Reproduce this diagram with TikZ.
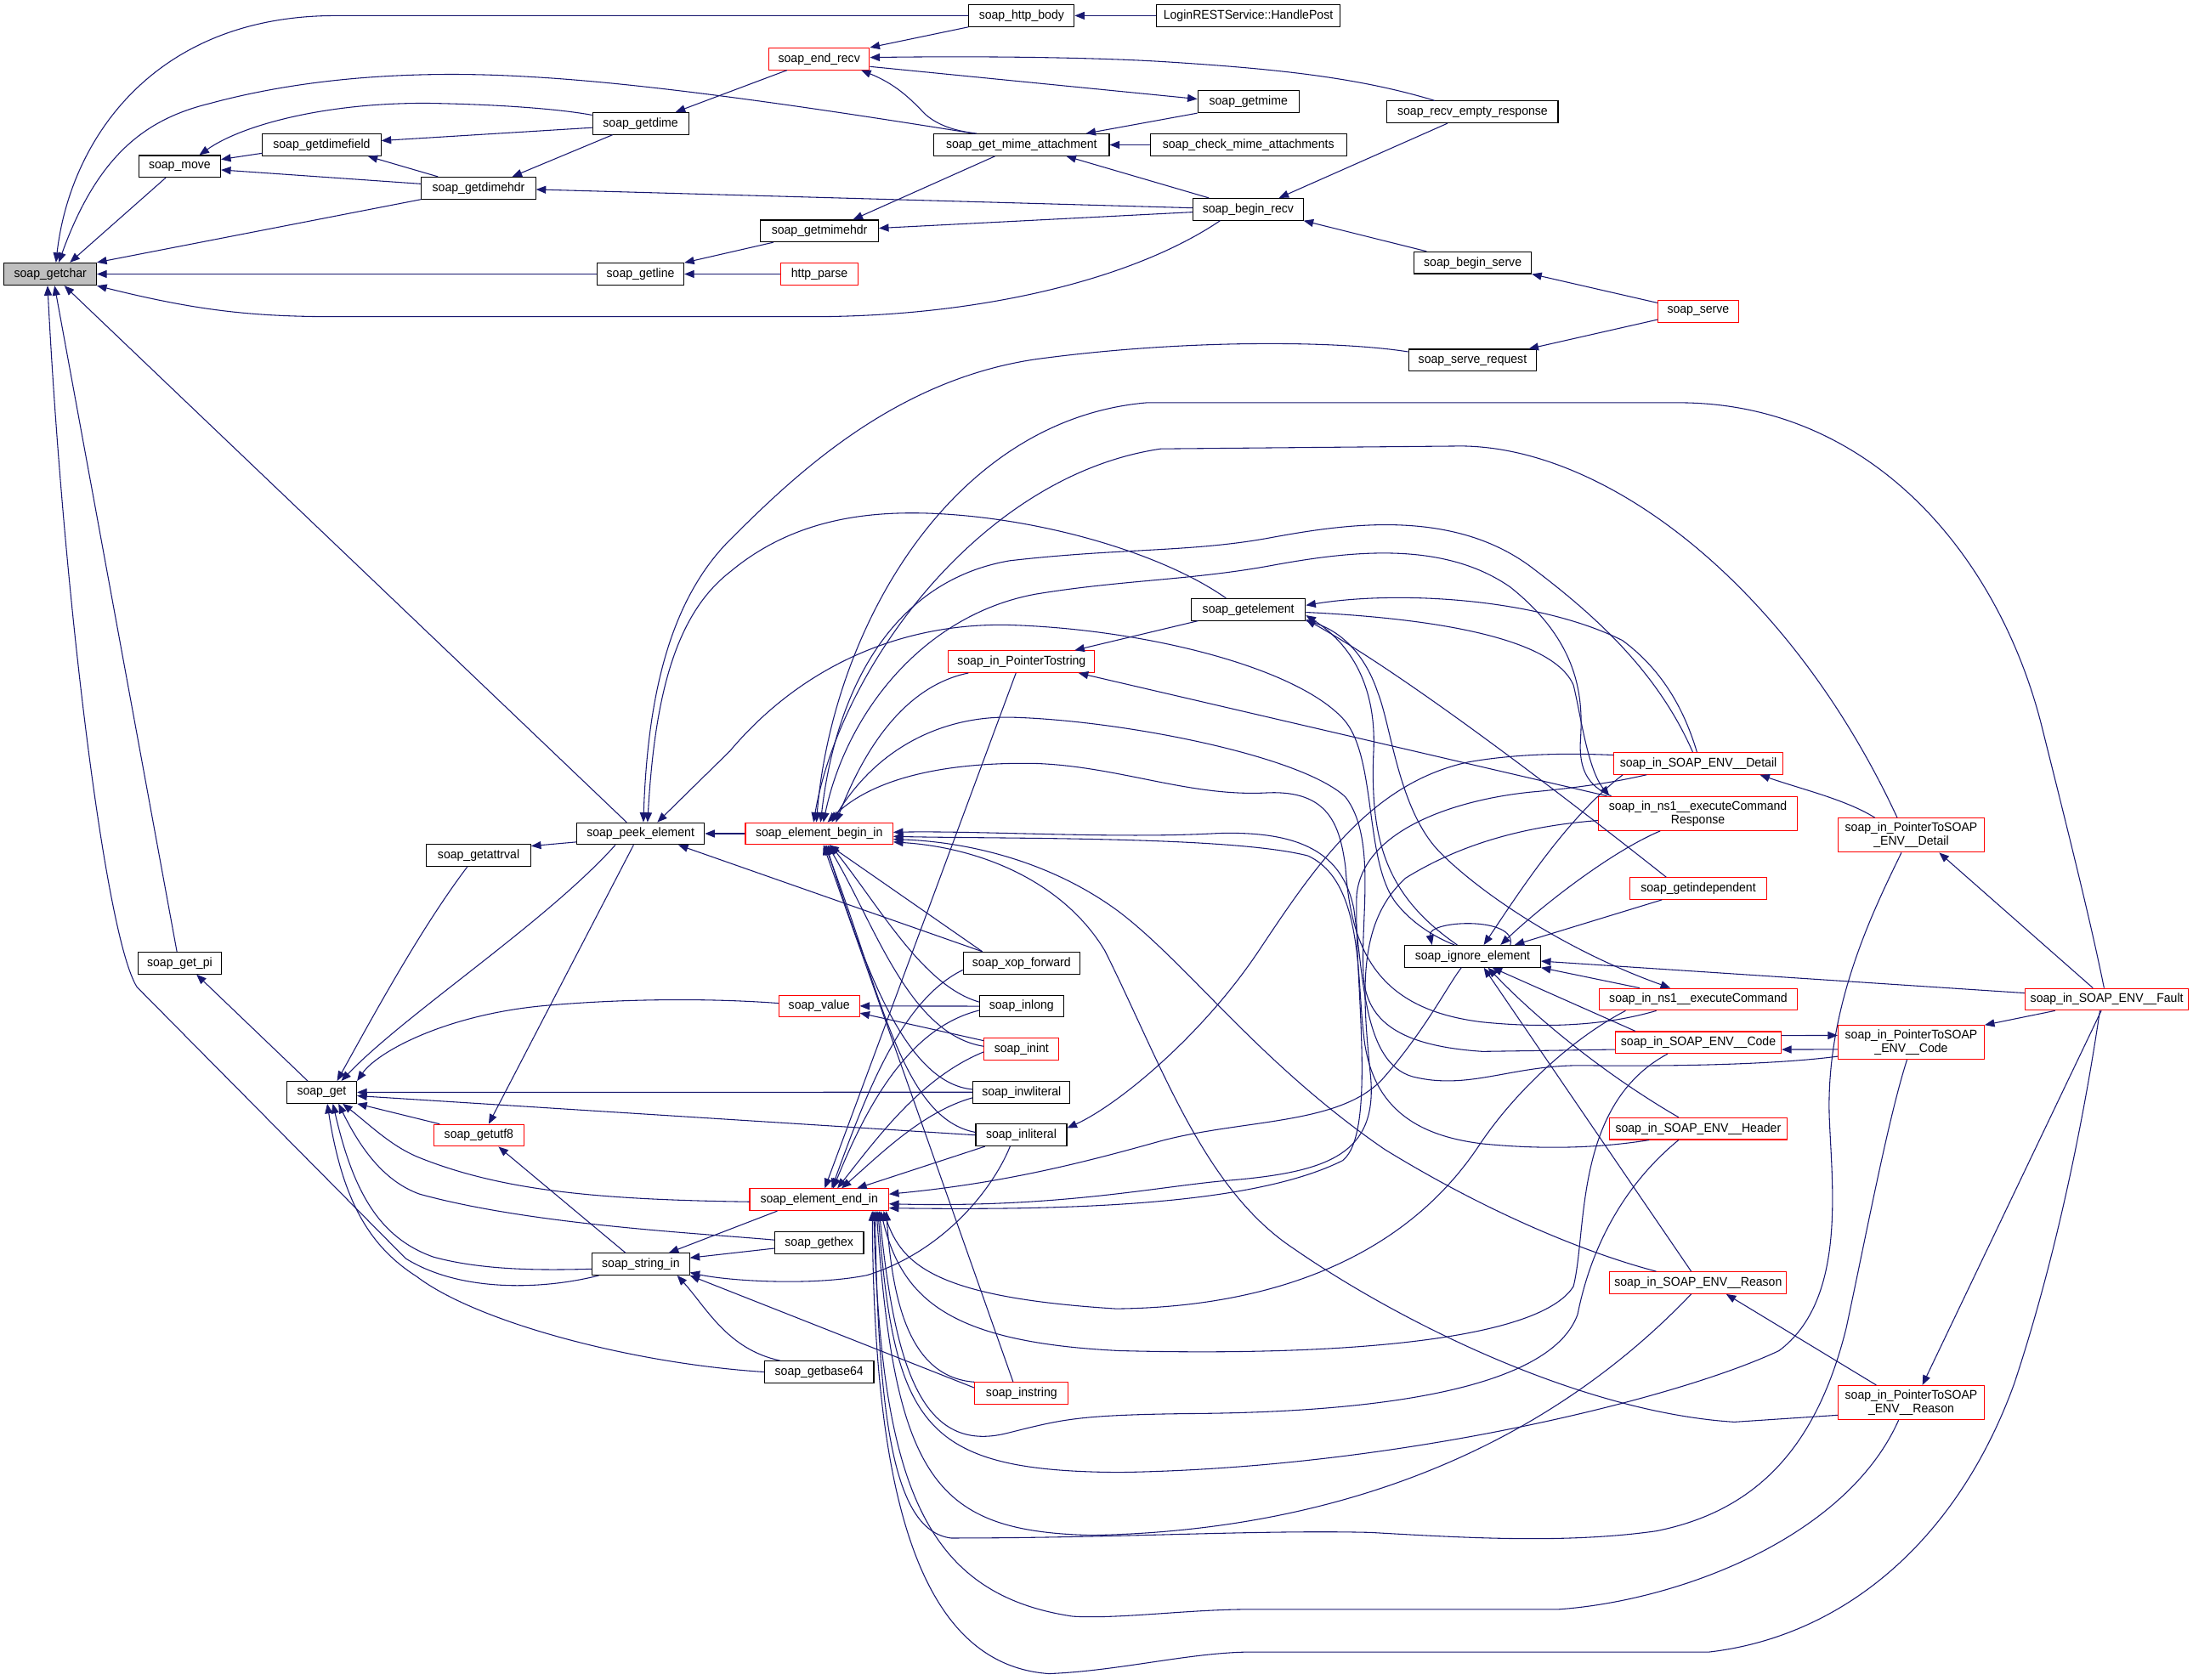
\documentclass[tikz,border=0pt]{standalone}
\usepackage{fontspec}
\setmainfont{Liberation Sans}[FakeStretch=0.95]
\usetikzlibrary{arrows.meta}
\definecolor{edgec}{HTML}{191970}
\definecolor{nodered}{HTML}{FF0000}
\definecolor{hl}{HTML}{BFBFBF}
\begin{document}
\begin{tikzpicture}[x=1pt,y=-1pt,
  nb/.style={draw=black, fill=white, line width=0.65pt, minimum height=15.6pt, inner sep=0pt, font=\fontsize{9}{10}\selectfont, text=black},
  nr/.style={nb, draw=nodered},
  nr2/.style={nr, minimum height=24.4pt, align=center, font=\fontsize{9}{9.8}\selectfont},
  ed/.style={draw=edgec, line width=0.65pt, {Triangle[length=7pt,width=5.5pt]}-},
]
\useasboundingbox (0,0) rectangle (1568,1201.5);
% nodes
\node[nb, fill=hl, minimum width=66pt, minimum height=16pt] (getchar) at (36,196) {soap\_getchar};
\node[nb, minimum width=75.4pt] (httpbody) at (730.4,11.2) {soap\_http\_body};
\node[nb, minimum width=131.3pt] (handlepost) at (892.5,11.2) {LoginRESTService::HandlePost};
\node[nr, minimum width=72pt] (endrecv) at (585.7,42.1) {soap\_end\_recv};
\node[nb, minimum width=68.7pt] (getdime) at (458,88.3) {soap\_getdime};
\node[nb, minimum width=72.4pt] (getmime) at (892.6,72.8) {soap\_getmime};
\node[nb, minimum width=122.2pt] (recvempty) at (1052.9,80.1) {soap\_recv\_empty\_response};
\node[nb, minimum width=84.7pt] (getdimefield) at (230,103.6) {soap\_getdimefield};
\node[nb, minimum width=125.4pt] (getmimeatt) at (730.4,103.6) {soap\_get\_mime\_attachment};
\node[nb, minimum width=140.4pt] (checkmime) at (892.6,103.6) {soap\_check\_mime\_attachments};
\node[nb, minimum width=58.4pt] (move) at (128.5,119) {soap\_move};
\node[nb, minimum width=81.6pt] (getdimehdr) at (342.2,134.5) {soap\_getdimehdr};
\node[nb, minimum width=78.7pt] (beginrecv) at (892.4,149.7) {soap\_begin\_recv};
\node[nb, minimum width=84.4pt] (getmimehdr) at (585.9,165.2) {soap\_getmimehdr};
\node[nb, minimum width=83.9pt] (beginserve) at (1053,187.9) {soap\_begin\_serve};
\node[nb, minimum width=62pt] (getline) at (458,196) {soap\_getline};
\node[nr, minimum width=55pt] (httpparse) at (585.9,196) {http\_parse};
\node[nr, minimum width=57.7pt] (serve) at (1214.2,222.6) {soap\_serve};
\node[nb, minimum width=91.6pt] (serverequest) at (1052.9,257.6) {soap\_serve\_request};
\node[nb, minimum width=81.6pt] (getelement) at (892.6,435.9) {soap\_getelement};
\node[nr, minimum width=104.7pt] (ptrtostring) at (730.4,473.2) {soap\_in\_PointerTostring};
\node[nr, minimum width=120.7pt] (detail) at (1214.3,546) {soap\_in\_SOAP\_ENV\_\_Detail};
\node[nr2, minimum width=142pt] (ecr) at (1214,581.8) {soap\_in\_ns1\_\_executeCommand\\Response};
\node[nr2, minimum width=104.3pt] (ptrdetail) at (1366.5,597.3) {soap\_in\_PointerToSOAP\\\_ENV\_\_Detail};
\node[nb, minimum width=91.3pt] (peek) at (458,596.2) {soap\_peek\_element};
\node[nr, minimum width=105.4pt] (beginin) at (585.7,596.2) {soap\_element\_begin\_in};
\node[nb, minimum width=74.6pt] (getattrval) at (342.2,611.7) {soap\_getattrval};
\node[nr, minimum width=98pt] (getindep) at (1214.3,635.4) {soap\_getindependent};
\node[nb, minimum width=97.2pt] (ignore) at (1052.9,683.9) {soap\_ignore\_element};
\node[nb, minimum width=60pt] (getpi) at (128.5,688.8) {soap\_get\_pi};
\node[nb, minimum width=83.4pt] (xop) at (730.4,688.7) {soap\_xop\_forward};
\node[nr, minimum width=141.3pt] (execcmd) at (1214.3,714.7) {soap\_in\_ns1\_\_executeCommand};
\node[nr, minimum width=117pt] (fault) at (1506.4,714.7) {soap\_in\_SOAP\_ENV\_\_Fault};
\node[nb, minimum width=60pt] (inlong) at (730.4,719.6) {soap\_inlong};
\node[nr, minimum width=57.5pt] (value) at (585.7,719.5) {soap\_value};
\node[nr, minimum width=118.5pt] (code) at (1214.3,745.6) {soap\_in\_SOAP\_ENV\_\_Code};
\node[nr2, minimum width=104.5pt, minimum height=24.2pt] (ptrcode) at (1366.5,745.5) {soap\_in\_PointerToSOAP\\\_ENV\_\_Code};
\node[nr, minimum width=53.4pt] (inint) at (730.4,750.3) {soap\_inint};
\node[nb, minimum width=50pt] (get) at (230,781.2) {soap\_get};
\node[nb, minimum width=69.4pt] (inwliteral) at (730.4,781.1) {soap\_inwliteral};
\node[nr, minimum width=127.3pt] (header) at (1214.2,807.2) {soap\_in\_SOAP\_ENV\_\_Header};
\node[nr, minimum width=64.8pt] (getutf8) at (342.4,812) {soap\_getutf8};
\node[nb, minimum width=65pt] (inliteral) at (730.2,811.8) {soap\_inliteral};
\node[nr, minimum width=99.3pt] (endin) at (585.7,858) {soap\_element\_end\_in};
\node[nb, minimum width=63.5pt] (gethex) at (585.7,888.8) {soap\_gethex};
\node[nb, minimum width=69.5pt] (stringin) at (458.2,904.1) {soap\_string\_in};
\node[nr, minimum width=126.5pt] (reason) at (1214.2,917.4) {soap\_in\_SOAP\_ENV\_\_Reason};
\node[nb, minimum width=78.1pt] (getbase64) at (585.7,981.2) {soap\_getbase64};
\node[nr, minimum width=67pt] (instring) at (730.4,996.5) {soap\_instring};
\node[nr2, minimum width=104.5pt] (ptrreason) at (1366.5,1003.1) {soap\_in\_PointerToSOAP\\\_ENV\_\_Reason};

% ---- top part
\draw[ed] ([xshift=4pt]getchar.north) .. controls (50,100) and (110,11.2) .. (240,11.2) -- (httpbody.west);
\draw[ed] ([xshift=6pt]getchar.north) .. controls (70,110) and (105,85) .. (150,74) .. controls (220,55) and (300,50) .. (380,55) .. controls (470,60) and (600,80) .. ([xshift=-34pt]getmimeatt.north);
\draw[ed] ([xshift=14pt]getchar.north) -- ([xshift=-10pt]move.south);
\draw[ed] (getchar.north east) -- (getdimehdr.south west);
\draw[ed] (getchar.east) -- (getline.west);
\draw[ed] (getchar.south east) .. controls (140,222) and (180,226.5) .. (240,226.5) -- (580,226.5) .. controls (700,226.5) and (810,200) .. ([xshift=-20pt]beginrecv.south);
\draw[ed] ([xshift=10pt]getchar.south) -- ([xshift=-10pt]peek.north);
\draw[ed] ([xshift=3pt]getchar.south) -- ([xshift=-2pt]getpi.north);
\draw[ed] ([xshift=-2pt]getchar.south) .. controls (45,420) and (75,670) .. (98,706) -- (290,900) .. controls (330,925) and (390,922) .. ([xshift=5pt]stringin.south west);
\draw[ed] ([yshift=5pt]move.east) -- ([yshift=-6pt]getdimefield.west);
\draw[ed] ([yshift=-2.5pt]move.east) -- ([yshift=3pt]getdimehdr.west);
\draw[ed] ([xshift=14pt]move.north) .. controls (175,88) and (240,72) .. (315,74) .. controls (360,75) and (400,78) .. ([yshift=6pt]getdime.west);
\draw[ed] ([yshift=3pt]getdimefield.east) -- ([yshift=-3pt]getdime.west);
\draw[ed] ([xshift=33pt]getdimefield.south) -- ([xshift=-29pt]getdimehdr.north);
\draw[ed] ([xshift=24pt]getdimehdr.north) -- ([xshift=-20pt]getdime.south);
\draw[ed] ([yshift=-1pt]getdimehdr.east) -- ([yshift=1pt]beginrecv.west);
\draw[ed] ([xshift=25pt]getdime.north) -- ([xshift=-23pt]endrecv.south);
\draw[ed] (endrecv.north east) -- (httpbody.south west);
\draw[ed] ([yshift=1pt]endrecv.east) .. controls (700,40) and (780,41) .. (830,44) .. controls (910,49) and (970,55) .. ([xshift=-27pt]recvempty.north);
\draw[ed] ([xshift=30pt]endrecv.south) .. controls (640,60) and (650,70) .. (658,78) .. controls (668,90) and (685,94) .. ([xshift=-32pt]getmimeatt.north);
\draw[ed] ([yshift=2pt]getmime.west) -- ([yshift=-5.5pt]endrecv.east);
\draw[ed] ([xshift=46pt]getmimeatt.north) -- (getmime.south west);
\draw[ed] (getmimeatt.east) -- (checkmime.west);
\draw[ed] ([xshift=32pt]getmimeatt.south) -- ([xshift=-28pt]beginrecv.north);
\draw[ed] ([xshift=24pt]getmimehdr.north) -- ([xshift=-19pt]getmimeatt.south);
\draw[ed] ([yshift=2pt]getmimehdr.east) -- ([yshift=-2pt]beginrecv.west);
\draw[ed] ([xshift=22pt]beginrecv.north) -- ([xshift=-18pt]recvempty.south);
\draw[ed] (beginrecv.south east) -- ([xshift=-33pt]beginserve.north);
\draw[ed] (getline.north east) -- ([xshift=-33pt]getmimehdr.south);
\draw[ed] (getline.east) -- (httpparse.west);
\draw[ed] (httpbody.east) -- (handlepost.west);
\draw[ed] (beginserve.south east) -- ([yshift=6pt]serve.west);
\draw[ed] ([xshift=-6pt]serverequest.north east) -- ([yshift=-6pt]serve.west);

% ---- peek element
\draw[ed] ([xshift=2pt]peek.north) .. controls (463,500) and (478,430) .. (522,386) .. controls (570,338) and (640,272) .. (740,257) .. controls (850,242) and (960,244) .. ([yshift=6pt]serverequest.west);
\draw[ed] ([xshift=5pt]peek.north) .. controls (468,500) and (482,440) .. (522,409) .. controls (565,373) and (615,366) .. (660,367) .. controls (740,369) and (830,395) .. ([xshift=-16pt]getelement.north);
\draw[ed] ([xshift=12pt]peek.north) -- (522,537) .. controls (570,480) and (640,445) .. (722,447) .. controls (820,450) and (930,478) .. (962,516) .. controls (985,545) and (975,620) .. (1000,648) .. controls (1010,660) and (1025,670) .. ([xshift=-13pt]ignore.north);
\draw[ed] (peek.east) -- (beginin.west);
\draw[ed] ([yshift=-1.5pt]getattrval.north east) -- ([yshift=-6pt]peek.west);
\draw[ed] ([xshift=11pt]get.north) .. controls (265,730) and (300,665) .. ([xshift=-8pt]getattrval.south);
\draw[ed] ([xshift=14pt]get.north) .. controls (290,725) and (390,660) .. ([xshift=-18pt]peek.south);
\draw[ed] ([xshift=7pt]getutf8.north) -- ([xshift=-5pt]peek.south);
\draw[ed] ([xshift=27pt]peek.south) -- ([xshift=-28pt]xop.north);
\draw[ed] ([xshift=12pt]getpi.south) -- ([xshift=-10pt]get.north);

% ---- soap_get
\draw[ed] (get.north east) .. controls (270,752) and (320,725) .. (392,719) .. controls (450,714) and (510,714) .. ([yshift=2pt]value.west);
\draw[ed] (get.east) -- (inwliteral.west);
\draw[ed] ([yshift=-2.5pt]get.east) -- (inliteral.west);
\draw[ed] (get.south east) -- ([xshift=-28pt]getutf8.north);
\draw[ed] ([xshift=15pt]get.south) .. controls (265,805) and (280,820) .. (300,828) .. controls (360,852) and (430,858) .. ([yshift=-1.5pt]endin.west);
\draw[ed] ([xshift=12pt]get.south) .. controls (258,822) and (275,845) .. (300,854) .. controls (380,876) and (500,882) .. ([yshift=2pt]gethex.west);
\draw[ed] ([xshift=8pt]get.south) .. controls (252,850) and (270,885) .. (310,899) .. controls (350,910) and (400,908) .. ([yshift=-3.5pt]stringin.west);
\draw[ed] ([xshift=4pt]get.south) .. controls (245,860) and (265,892) .. (298,913) .. controls (340,945) and (450,975) .. (getbase64.west);
\draw[ed] ([xshift=14pt]getutf8.south) -- ([xshift=-11pt]stringin.north);
\draw[ed] ([yshift=4.5pt]stringin.east) -- ([yshift=-4pt]gethex.west);
\draw[ed] ([xshift=20pt]stringin.north) -- ([xshift=-30pt]endin.south);
\draw[ed] ([yshift=-6pt]stringin.east) .. controls (520,916) and (580,920) .. (620,912) .. controls (675,895) and (710,850) .. ([xshift=-8pt]inliteral.south);
\draw[ed] (stringin.south east) -- ([yshift=4pt]instring.west);
\draw[ed] ([xshift=26pt]stringin.south) .. controls (505,935) and (520,965) .. ([xshift=-28pt]getbase64.north);
\draw[ed] (value.east) -- (inlong.west);
\draw[ed] ([yshift=-5pt]value.east) -- ([yshift=6pt]inint.west);

% ---- element_begin_in, left fan
\draw[ed] ([xshift=7pt]beginin.south) -- ([xshift=-28pt]xop.north);
\draw[ed] ([xshift=8pt]beginin.south) .. controls (630,650) and (660,705) .. ([yshift=3pt]inlong.west);
\draw[ed] ([xshift=6pt]beginin.south) .. controls (625,660) and (650,740) .. ([yshift=2pt]inint.west);
\draw[ed] ([xshift=5pt]beginin.south) .. controls (620,700) and (650,775) .. ([yshift=2pt]inwliteral.west);
\draw[ed] ([xshift=4pt]beginin.south) .. controls (630,710) and (645,800) .. ([yshift=2pt]inliteral.west);
\draw[ed] ([xshift=3pt]beginin.south) -- ([xshift=-6pt]instring.north);
\draw[ed] ([xshift=12pt]beginin.north) .. controls (620,530) and (650,490) .. ([xshift=-38pt]ptrtostring.south);

% ---- element_end_in, left fan
\draw[ed] ([xshift=4pt]endin.north) -- ([xshift=-4pt]ptrtostring.south);
\draw[ed] ([xshift=9pt]endin.north) .. controls (620,780) and (645,715) .. ([yshift=-5pt]xop.west);
\draw[ed] ([xshift=10pt]endin.north) .. controls (620,790) and (650,735) .. ([yshift=-3pt]inlong.west);
\draw[ed] ([xshift=13pt]endin.north) .. controls (630,810) and (660,770) .. ([yshift=-2pt]inint.west);
\draw[ed] ([xshift=16pt]endin.north) .. controls (630,825) and (660,795) .. ([yshift=-4pt]inwliteral.west);
\draw[ed] ([xshift=27pt]endin.north) -- ([xshift=-26pt]inliteral.south);
\draw[ed] ([xshift=-2pt]endin.south east) .. controls (638,930) and (650,985) .. (instring.north west);

% ---- element_begin_in, right side
\draw[ed] ([xshift=-2pt]beginin.north) .. controls (595,450) and (680,300) .. (820,288) -- (1200,288) .. controls (1340,288) and (1430,400) .. (1460,520) .. controls (1480,600) and (1495,660) .. ([xshift=-2pt]fault.north);
\draw[ed] ([xshift=-4pt]beginin.north) .. controls (600,480) and (700,340) .. (830,321) -- (1045,319) .. controls (1150,320) and (1280,420) .. ([xshift=-10pt]ptrdetail.north);
\draw[ed] ([xshift=1pt]beginin.north) .. controls (598,490) and (640,415) .. (722,401) .. controls (800,392) and (850,395) .. (906,385) .. controls (960,375) and (1040,362) .. (1098,408) .. controls (1140,440) and (1185,480) .. ([xshift=-4pt]detail.north);
\draw[ed] ([xshift=3pt]beginin.north) .. controls (605,510) and (660,440) .. (740,425) .. controls (800,415) and (850,415) .. (906,405) .. controls (960,395) and (1030,385) .. (1080,420) .. controls (1130,460) and (1132,500) .. (1130,530) .. controls (1129,550) and (1135,562) .. ([xshift=-62pt]ecr.north);
\draw[ed] ([xshift=6pt]beginin.north) .. controls (625,555) and (680,545) .. (740,546) .. controls (800,548) and (850,570) .. (906,567) .. controls (950,565) and (958,590) .. (962,620) .. controls (966,680) and (985,722) .. (1060,731) .. controls (1120,737) and (1160,730) .. ([xshift=-30pt]execcmd.south);
\draw[ed] ([xshift=9pt]beginin.north) .. controls (630,530) and (680,512) .. (723,513) .. controls (800,515) and (930,540) .. (962,570) .. controls (985,600) and (972,660) .. (975,700) .. controls (978,730) and (1000,748) .. (1060,752) -- ([yshift=-5pt]code.west);
\draw[ed] ([yshift=1pt]beginin.east) .. controls (700,594) and (800,600) .. (870,596) .. controls (930,594) and (960,610) .. (968,650) .. controls (975,700) and (975,760) .. (1010,770) .. controls (1050,780) and (1080,762) .. (1130,762) .. controls (1220,763) and (1280,760) .. ([yshift=-10pt]ptrcode.west);
\draw[ed] ([yshift=-2pt]beginin.east) .. controls (720,600) and (880,598) .. (935,612) .. controls (975,630) and (970,700) .. (975,740) .. controls (980,790) and (1010,812) .. (1060,818) .. controls (1110,823) and (1150,820) .. ([xshift=-35pt]header.south);
\draw[ed] ([yshift=-4pt]beginin.east) .. controls (690,602) and (750,615) .. (800,652) .. controls (850,690) and (900,760) .. (990,822) .. controls (1060,865) and (1130,895) .. ([xshift=-30pt]reason.north);
\draw[ed] ([yshift=-6pt]beginin.east) .. controls (700,606) and (760,630) .. (790,680) .. controls (830,760) and (860,850) .. (925,893) .. controls (1000,945) and (1130,1010) .. (1240,1017) -- ([yshift=-9pt]ptrreason.west);

% ---- getelement, PointerTostring
\draw[ed] ([yshift=3pt]getelement.east) .. controls (1000,422) and (1100,428) .. (1160,458) .. controls (1190,480) and (1205,510) .. ([xshift=-1pt]detail.north);
\draw[ed] ([xshift=8pt]ecr.north west) .. controls (1135,550) and (1130,510) .. (1125,490) .. controls (1110,455) and (1020,442) .. ([yshift=-2pt]getelement.east);
\draw[ed] ([xshift=-20pt]execcmd.north) .. controls (1120,680) and (1060,640) .. (1030,610) .. controls (1000,580) and (995,520) .. (985,495) .. controls (975,465) and (955,448) .. (getelement.south east);
\draw[ed] ([yshift=1pt]getelement.south east) .. controls (1000,480) and (1100,555) .. ([xshift=-23pt]getindep.north);
\draw[ed] ([yshift=4pt]getelement.south east) .. controls (965,460) and (985,490) .. (982,540) .. controls (980,600) and (990,640) .. ([xshift=-11pt]ignore.north);
\draw[ed] ([xshift=38pt]ptrtostring.north) -- ([xshift=-36pt]getelement.south);
\draw[ed] ([xshift=-12pt]ptrtostring.south east) -- ([xshift=-65pt]ecr.north);

% ---- ignore element
\draw[ed] ([xshift=-29pt]ignore.north) .. controls (1020,658) and (1085,655) .. ([xshift=27pt]ignore.north);
\draw[ed] ([xshift=30pt]ignore.north) -- ([xshift=-26pt]getindep.south);
\draw[ed] ([xshift=8pt]ignore.north) .. controls (1085,640) and (1120,585) .. ([xshift=-54pt]detail.south);
\draw[ed] ([xshift=20pt]ignore.north) .. controls (1100,650) and (1150,610) .. ([xshift=-27pt]ecr.south);
\draw[ed] ([yshift=-3.5pt]ignore.east) -- ([yshift=4.5pt]fault.west);
\draw[ed] (ignore.south east) -- ([xshift=-42pt]execcmd.north);
\draw[ed] ([xshift=14pt]ignore.south) -- ([xshift=-45pt]code.north);
\draw[ed] ([xshift=11pt]ignore.south) .. controls (1100,730) and (1150,770) .. ([xshift=-14pt]header.north);
\draw[ed] ([xshift=8pt]ignore.south) -- ([xshift=-5pt]reason.north);

% ---- SOAP_ENV nodes
\draw[ed] ([xshift=44pt]detail.south) .. controls (1290,565) and (1320,572) .. ([xshift=-26pt]ptrdetail.north);
\draw[ed] ([xshift=20pt]ptrdetail.south) -- ([xshift=-10pt]fault.north);
\draw[ed] (ptrcode.north east) -- ([xshift=-37pt]fault.south);
\draw[ed] ([xshift=8pt]ptrreason.north) -- ([xshift=-4pt]fault.south);
\draw[ed] ([yshift=-5pt]code.east) -- ([yshift=-5pt]ptrcode.west);
\draw[ed] ([yshift=5pt]ptrcode.west) -- ([yshift=5pt]code.east);
\draw[ed] ([xshift=20pt]reason.south) -- ([xshift=-25pt]ptrreason.north);
\draw[ed] ([yshift=5pt]inliteral.east) .. controls (800,790) and (860,740) .. (900,680) .. controls (940,620) and (980,560) .. (1050,545) .. controls (1090,538) and (1130,539) .. ([yshift=6pt]detail.west);

% ---- element_end_in, right side
\draw[ed] ([yshift=4pt]endin.east) .. controls (720,846) and (780,830) .. (830,816) .. controls (890,800) and (960,805) .. (990,770) .. controls (1020,735) and (1035,705) .. ([xshift=-8pt]ignore.south);
\draw[ed] ([yshift=-3pt]endin.east) .. controls (760,864) and (830,848) .. (881,844) .. controls (950,838) and (985,825) .. (980,770) .. controls (974,710) and (970,660) .. (1005,628) .. controls (1050,600) and (1100,590) .. ([yshift=-5pt]ecr.west);
\draw[ed] ([yshift=-6pt]endin.east) .. controls (780,866) and (900,860) .. (960,830) .. controls (985,810) and (968,700) .. (970,640) .. controls (975,590) and (1050,570) .. (1100,566) .. controls (1140,562) and (1160,558) .. ([xshift=-37pt]detail.south);
\draw[ed] ([xshift=-4pt]endin.south east) .. controls (645,905) and (670,928) .. (798,936) .. controls (900,935) and (1000,905) .. (1057,820) .. controls (1080,785) and (1120,745) .. ([xshift=-52pt]execcmd.south);
\draw[ed] ([xshift=-6pt]endin.south east) .. controls (645,930) and (680,960) .. (800,966) .. controls (950,970) and (1100,960) .. (1125,920) .. controls (1135,880) and (1125,790) .. ([xshift=-22pt]code.south);
\draw[ed] ([xshift=-7pt]endin.south east) .. controls (640,980) and (660,1040) .. (720,1025) .. controls (760,1015) and (770,1012) .. (850,1011) .. controls (1000,1010) and (1110,990) .. (1128,940) .. controls (1140,880) and (1170,840) .. ([xshift=-14pt]header.south);
\draw[ed] ([xshift=-8pt]endin.south east) .. controls (640,1020) and (660,1052) .. (800,1053) .. controls (1000,1050) and (1200,1000) .. (1272,966) .. controls (1320,930) and (1310,850) .. (1308,800) .. controls (1305,720) and (1340,650) .. ([xshift=-7pt]ptrdetail.south);
\draw[ed] ([xshift=-9pt]endin.south east) .. controls (640,1060) and (670,1095) .. (780,1098) .. controls (950,1095) and (1100,1040) .. ([xshift=-5pt]reason.south);
\draw[ed] ([xshift=-10pt]endin.south east) .. controls (628,1020) and (640,1095) .. (680,1100) .. controls (800,1100) and (900,1094) .. (980,1096) .. controls (1050,1100) and (1120,1104) .. (1184,1095) .. controls (1260,1080) and (1300,1030) .. (1320,950) .. controls (1335,880) and (1350,800) .. ([xshift=-3pt]ptrcode.south);
\draw[ed] ([xshift=-11pt]endin.south east) .. controls (630,1060) and (660,1140) .. (767,1156) .. controls (800,1158) and (850,1151) .. (893,1151) -- (1114,1151) .. controls (1200,1145) and (1320,1100) .. ([xshift=-9pt]ptrreason.south);
\draw[ed] ([xshift=-12pt]endin.south east) .. controls (625,1050) and (650,1190) .. (750,1197) .. controls (800,1195) and (850,1182) .. (893,1181.5) -- (1222,1181.5) .. controls (1320,1170) and (1400,1100) .. (1440,990) .. controls (1470,900) and (1490,800) .. ([xshift=-5pt]fault.south);
\end{tikzpicture}
\end{document}
